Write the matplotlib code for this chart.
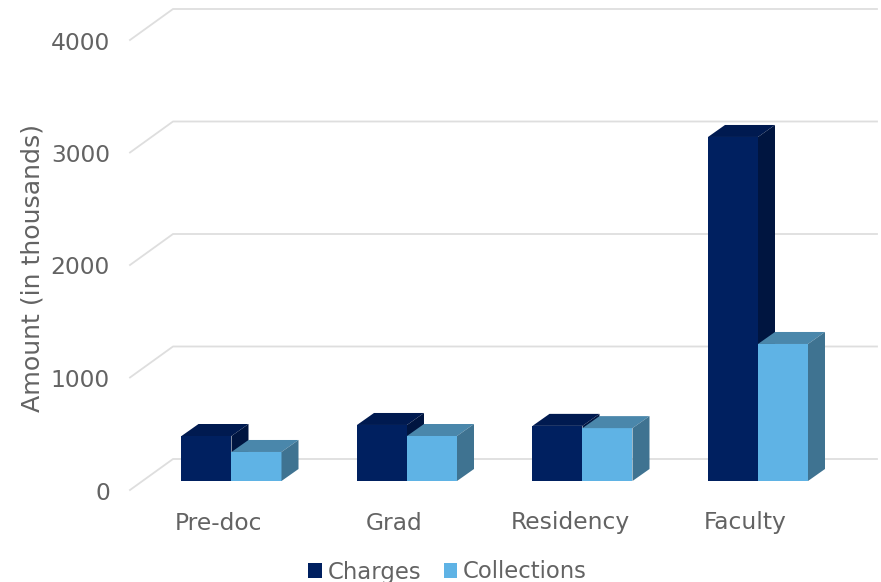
import numpy as np
import matplotlib
matplotlib.use('Agg')
import matplotlib.pyplot as plt

categories = ['Pre-doc', 'Grad', 'Residency', 'Faculty']
charges = [400, 498, 490, 3058]
collections = [258, 400, 470, 1218]
y_ticks = [0, 1000, 2000, 3000, 4000]

W, H = 881, 582
X_ORIGIN = 231.5   # pixel of the boundary between the two bars of the first group
X_STEP = 175.5     # pixels per category
Y_ORIGIN = 481     # pixel of value 0 on the plane of the bars
Y_SCALE = 0.1125   # pixels per unit
BAR_W = 50 / X_STEP
DEPTH_X = 17 / X_STEP
DEPTH_Y = 12 / Y_SCALE

GRID_X0 = (130 - X_ORIGIN) / X_STEP
GRID_X1 = (173 - X_ORIGIN) / X_STEP
GRID_X2 = (877 - X_ORIGIN) / X_STEP
GRID_FRONT = -(490 - Y_ORIGIN) / Y_SCALE
GRID_BACK = (Y_ORIGIN - 459) / Y_SCALE

TEXT_COL = '#636363'
FONT = 16.4


def draw_bars(ax, x, values, front, top, side, label):
    bars = ax.bar(x, values, BAR_W, color=front, label=label, zorder=3, linewidth=0)
    for xi, v in zip(x, values):
        l, r = xi - BAR_W / 2, xi + BAR_W / 2
        ax.fill([l, r, r + DEPTH_X, l + DEPTH_X], [v, v, v + DEPTH_Y, v + DEPTH_Y],
                color=top, linewidth=0, zorder=3)
        ax.fill([r, r + DEPTH_X, r + DEPTH_X, r], [0, DEPTH_Y, v + DEPTH_Y, v],
                color=side, linewidth=0, zorder=3)
    return bars


def main():
    fig = plt.figure(figsize=(W / 100, H / 100), dpi=100)
    ax = fig.add_axes([0, 0, 1, 1])
    ax.set_xlim(-X_ORIGIN / X_STEP, (W - X_ORIGIN) / X_STEP)
    ax.set_ylim((Y_ORIGIN - H) / Y_SCALE, Y_ORIGIN / Y_SCALE)
    ax.axis('off')

    for v in y_ticks:
        ax.plot([GRID_X0, GRID_X1, GRID_X2], [v + GRID_FRONT, v + GRID_BACK, v + GRID_BACK],
                color='#dedede', lw=1.3, zorder=1)
        ax.text((110 - X_ORIGIN) / X_STEP, v + GRID_FRONT - 3 / Y_SCALE, str(v), ha='right',
                va='center', fontsize=16.8, color=TEXT_COL)

    x = np.arange(len(categories))
    h1 = draw_bars(ax, x - BAR_W / 2, charges, '#002060', '#001a50', '#001540', 'Charges')
    h2 = draw_bars(ax, x + BAR_W / 2, collections, '#5fb3e5', '#4a87ab', '#3f7391', 'Collections')

    for xi, name in zip(x, categories):
        ax.text(xi - 12.5 / X_STEP, -(523 - Y_ORIGIN) / Y_SCALE, name, ha='center', va='center',
                fontsize=16.8, color=TEXT_COL)

    ax.text((33 - X_ORIGIN) / X_STEP, (Y_ORIGIN - 268) / Y_SCALE, 'Amount (in thousands)',
            rotation=90, ha='center', va='center', fontsize=18.2, color=TEXT_COL)

    fig.legend(handles=[h1, h2], loc='center', bbox_to_anchor=(447.5 / W, 1 - 572 / H), ncol=2,
               frameon=False, fontsize=FONT, labelcolor=TEXT_COL, handlelength=0.6,
               handleheight=0.6, handletextpad=0.25, columnspacing=1.0, borderpad=0)

    fig.savefig('out.png', dpi=100)


if __name__ == '__main__':
    main()
